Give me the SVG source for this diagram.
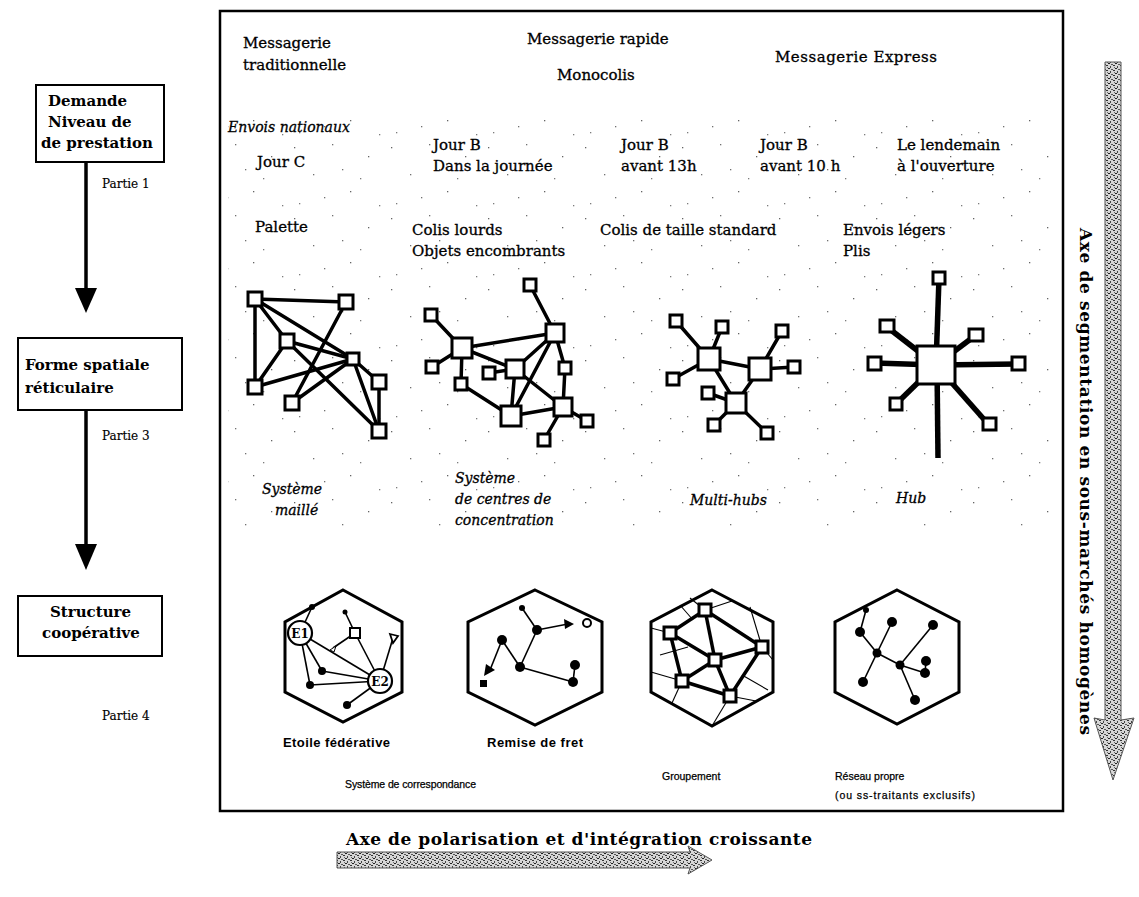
<svg xmlns="http://www.w3.org/2000/svg" width="1139" height="897" viewBox="0 0 1139 897">
<style>
.t{font-family:"DejaVu Serif","Liberation Serif",serif;font-size:15px;fill:#000;stroke:#000;stroke-width:0.3}
.b{font-weight:bold;stroke-width:0}
.i{font-style:italic}
.s{font-family:"Liberation Sans","DejaVu Sans",sans-serif;font-size:10.5px;fill:#000;stroke:#000;stroke-width:0.25}
.sb{font-family:"Liberation Sans","DejaVu Sans",sans-serif;font-size:13px;font-weight:bold;fill:#000}
.box{fill:#fff;stroke:#000;stroke-width:2}
.e{stroke:#000;stroke-width:3.5;fill:none;stroke-linecap:round}
.sq{fill:#fff;stroke:#000;stroke-width:3}
.hex{fill:#fff;stroke:#000;stroke-width:3}
.he{stroke:#000;stroke-width:1.6;fill:none}
.thin{stroke:#000;stroke-width:1.1;fill:none}
.dot{fill:#000}
.arr{fill:url(#grain);stroke:#555;stroke-width:1}
</style>
<defs>
<pattern id="speck" width="97" height="71" patternUnits="userSpaceOnUse">
<rect x="3" y="5" width="1.3" height="1.3" fill="#222"/>
<rect x="41" y="2" width="1.3" height="1.3" fill="#333"/>
<rect x="77" y="14" width="1.3" height="1.3" fill="#222"/>
<rect x="22" y="32" width="1.3" height="1.3" fill="#333"/>
<rect x="59" y="49" width="1.3" height="1.3" fill="#222"/>
<rect x="88" y="63" width="1.3" height="1.3" fill="#444"/>
<rect x="8" y="61" width="1.3" height="1.3" fill="#444"/>
<rect x="51" y="27" width="1.3" height="1.3" fill="#333"/>
<rect x="33" y="55" width="1.3" height="1.3" fill="#333"/>
<rect x="69" y="36" width="1.3" height="1.3" fill="#444"/>
</pattern>
<pattern id="grain" width="7" height="5" patternUnits="userSpaceOnUse">
<rect width="7" height="5" fill="#d6d6d6"/>
<rect x="0" y="0" width="2" height="1" fill="#333"/>
<rect x="4" y="1" width="1" height="2" fill="#444"/>
<rect x="2" y="3" width="2" height="1" fill="#222"/>
<rect x="5" y="4" width="2" height="1" fill="#555"/>
<rect x="1" y="2" width="1" height="1" fill="#666"/>
</pattern>
</defs>
<rect width="1139" height="897" fill="#fff"/>

<!-- speckled background -->
<rect x="228" y="118" width="830" height="410" fill="url(#speck)" opacity="0.7"/>

<!-- main frame -->
<rect x="220" y="11" width="843" height="800" fill="none" stroke="#000" stroke-width="2.5"/>

<!-- left column -->
<g id="node-demande">
<rect class="box" x="36" y="85" width="128" height="77"/>
<text class="t b" x="48" y="106">Demande</text>
<text class="t b" x="48" y="127">Niveau de</text>
<text class="t b" x="41" y="148">de prestation</text>
</g>
<text class="t" x="102" y="188" style="font-size:12px;stroke-width:0.15">Partie 1</text>

<g id="node-forme">
<rect class="box" x="18" y="338" width="164" height="72"/>
<text class="t b" x="25" y="370">Forme spatiale</text>
<text class="t b" x="25" y="393">réticulaire</text>
</g>
<text class="t" x="102" y="440" style="font-size:12px;stroke-width:0.15">Partie 3</text>

<g id="node-structure">
<rect class="box" x="18" y="596" width="144" height="60"/>
<text class="t b" x="50" y="617">Structure</text>
<text class="t b" x="42" y="638">coopérative</text>
</g>
<text class="t" x="102" y="720" style="font-size:12px;stroke-width:0.15">Partie 4</text>

<g id="connectors">
<line x1="86" y1="162" x2="86" y2="292" stroke="#000" stroke-width="3.5"/>
<polygon points="75,288 97,288 86,313" fill="#000"/>
<line x1="86" y1="410" x2="86" y2="548" stroke="#000" stroke-width="3.5"/>
<polygon points="75,544 97,544 86,570" fill="#000"/>
</g>

<!-- header texts -->
<g id="headers">
<text class="t" x="243" y="48">Messagerie</text>
<text class="t" x="243" y="70">traditionnelle</text>
<text class="t" x="527" y="44">Messagerie rapide</text>
<text class="t" x="557" y="80">Monocolis</text>
<text class="t" x="775" y="62" textLength="162">Messagerie Express</text>
<text class="t i" x="228" y="132" style="font-size:14px">Envois nationaux</text>
<text class="t" x="257" y="167">Jour C</text>
<text class="t" x="433" y="150">Jour B</text>
<text class="t" x="433" y="171">Dans la journée</text>
<text class="t" x="621" y="150">Jour B</text>
<text class="t" x="621" y="171">avant 13h</text>
<text class="t" x="760" y="150">Jour B</text>
<text class="t" x="760" y="171">avant 10 h</text>
<text class="t" x="897" y="150">Le lendemain</text>
<text class="t" x="897" y="171">à l'ouverture</text>
<text class="t" x="255" y="232">Palette</text>
<text class="t" x="412" y="235">Colis lourds</text>
<text class="t" x="412" y="256">Objets encombrants</text>
<text class="t" x="600" y="235">Colis de taille standard</text>
<text class="t" x="843" y="235">Envois légers</text>
<text class="t" x="843" y="256">Plis</text>
</g>

<!-- Network 1: maillé -->
<g id="net-maille">
<g class="e">
<line x1="255" y1="299" x2="346" y2="302"/>
<line x1="255" y1="299" x2="287" y2="341"/>
<line x1="255" y1="299" x2="353" y2="359"/>
<line x1="255" y1="299" x2="255" y2="387"/>
<line x1="346" y1="302" x2="292" y2="403"/>
<line x1="287" y1="341" x2="353" y2="359"/>
<line x1="287" y1="341" x2="255" y2="387"/>
<line x1="287" y1="341" x2="379" y2="431"/>
<line x1="255" y1="387" x2="353" y2="359"/>
<line x1="292" y1="403" x2="353" y2="359"/>
<line x1="353" y1="359" x2="379" y2="431"/>
<line x1="353" y1="359" x2="379" y2="382"/>
<line x1="379" y1="382" x2="379" y2="431"/>
</g>
<rect class="sq" x="248" y="292" width="14" height="14"/>
<rect class="sq" x="339" y="295" width="14" height="14"/>
<rect class="sq" x="280" y="334" width="14" height="14"/>
<rect class="sq" x="347" y="353" width="12" height="12"/>
<rect class="sq" x="248" y="380" width="14" height="14"/>
<rect class="sq" x="372" y="375" width="14" height="14"/>
<rect class="sq" x="285" y="396" width="14" height="14"/>
<rect class="sq" x="372" y="424" width="14" height="14"/>
</g>

<!-- Network 2: centres de concentration -->
<g id="net-centres">
<g class="e">
<line x1="530" y1="285" x2="555" y2="333"/>
<line x1="431" y1="315" x2="462" y2="348"/>
<line x1="462" y1="348" x2="555" y2="333"/>
<line x1="462" y1="348" x2="432" y2="367"/>
<line x1="462" y1="348" x2="461" y2="384"/>
<line x1="462" y1="348" x2="515" y2="369"/>
<line x1="555" y1="333" x2="515" y2="369"/>
<line x1="555" y1="333" x2="511" y2="416"/>
<line x1="555" y1="333" x2="565" y2="368"/>
<line x1="565" y1="368" x2="563" y2="407"/>
<line x1="515" y1="369" x2="511" y2="416"/>
<line x1="515" y1="369" x2="563" y2="407"/>
<line x1="461" y1="384" x2="511" y2="416"/>
<line x1="511" y1="416" x2="563" y2="407"/>
<line x1="563" y1="407" x2="587" y2="421"/>
<line x1="563" y1="407" x2="544" y2="440"/>
<line x1="489" y1="373" x2="515" y2="369"/>
</g>
<rect class="sq" x="524" y="279" width="12" height="12"/>
<rect class="sq" x="425" y="309" width="12" height="12"/>
<rect class="sq" x="452" y="338" width="20" height="20"/>
<rect class="sq" x="546" y="324" width="18" height="18"/>
<rect class="sq" x="426" y="361" width="12" height="12"/>
<rect class="sq" x="455" y="378" width="12" height="12"/>
<rect class="sq" x="483" y="367" width="12" height="12"/>
<rect class="sq" x="506" y="360" width="18" height="18"/>
<rect class="sq" x="559" y="362" width="12" height="12"/>
<rect class="sq" x="501" y="406" width="20" height="20"/>
<rect class="sq" x="554" y="398" width="18" height="18"/>
<rect class="sq" x="581" y="415" width="12" height="12"/>
<rect class="sq" x="538" y="434" width="12" height="12"/>
</g>

<!-- Network 3: multi-hubs -->
<g id="net-multihubs">
<g class="e">
<line x1="676" y1="321" x2="709" y2="359"/>
<line x1="722" y1="327" x2="709" y2="359"/>
<line x1="709" y1="359" x2="760" y2="369"/>
<line x1="709" y1="359" x2="673" y2="379"/>
<line x1="709" y1="359" x2="736" y2="403"/>
<line x1="760" y1="369" x2="782" y2="331"/>
<line x1="760" y1="369" x2="794" y2="367"/>
<line x1="760" y1="369" x2="736" y2="403"/>
<line x1="736" y1="403" x2="714" y2="425"/>
<line x1="736" y1="403" x2="767" y2="433"/>
<line x1="708" y1="393" x2="736" y2="403"/>
</g>
<rect class="sq" x="670" y="315" width="12" height="12"/>
<rect class="sq" x="716" y="321" width="12" height="12"/>
<rect class="sq" x="698" y="348" width="22" height="22"/>
<rect class="sq" x="749" y="358" width="22" height="22"/>
<rect class="sq" x="776" y="325" width="12" height="12"/>
<rect class="sq" x="788" y="361" width="12" height="12"/>
<rect class="sq" x="667" y="373" width="12" height="12"/>
<rect class="sq" x="702" y="387" width="12" height="12"/>
<rect class="sq" x="726" y="393" width="20" height="20"/>
<rect class="sq" x="708" y="419" width="12" height="12"/>
<rect class="sq" x="761" y="427" width="12" height="12"/>
</g>

<!-- Network 4: hub -->
<g id="net-hub">
<g stroke="#000" stroke-width="5.5" fill="none">
<line x1="939" y1="278" x2="936" y2="365"/>
<line x1="887" y1="327" x2="936" y2="365"/>
<line x1="976" y1="335" x2="936" y2="365"/>
<line x1="875" y1="363" x2="936" y2="365"/>
<line x1="1018" y1="364" x2="936" y2="365"/>
<line x1="896" y1="404" x2="936" y2="365"/>
<line x1="989" y1="425" x2="936" y2="365"/>
<line x1="937" y1="365" x2="938" y2="458"/>
</g>
<rect class="sq" x="917" y="346" width="38" height="38"/>
<rect class="sq" x="933" y="272" width="12" height="12"/>
<rect class="sq" x="880" y="320" width="14" height="12"/>
<rect class="sq" x="969" y="329" width="14" height="12"/>
<rect class="sq" x="868" y="357" width="13" height="13"/>
<rect class="sq" x="1012" y="357" width="13" height="13"/>
<rect class="sq" x="890" y="398" width="12" height="12"/>
<rect class="sq" x="983" y="418" width="13" height="12"/>
</g>

<!-- network labels -->
<g id="net-labels">
<text class="t i" x="262" y="494" style="font-size:14px">Système</text>
<text class="t i" x="275" y="515" style="font-size:14px">maillé</text>
<text class="t i" x="455" y="483" style="font-size:14px">Système</text>
<text class="t i" x="455" y="504" style="font-size:14px">de centres de</text>
<text class="t i" x="455" y="525" style="font-size:14px">concentration</text>
<text class="t i" x="690" y="505" style="font-size:14px">Multi-hubs</text>
<text class="t i" x="896" y="503" style="font-size:14px">Hub</text>
</g>

<!-- Hex 1 : Etoile fédérative -->
<g id="hex-etoile">
<polygon class="hex" points="343,590 402,622 402,692 343,722 285,692 285,622"/>
<g class="he">
<line x1="300" y1="633" x2="312" y2="607"/>
<line x1="300" y1="633" x2="380" y2="681"/>
<line x1="300" y1="633" x2="322" y2="671"/>
<line x1="300" y1="633" x2="310" y2="685"/>
<line x1="333" y1="648" x2="355" y2="633"/>
<line x1="322" y1="671" x2="380" y2="681"/>
<line x1="310" y1="685" x2="380" y2="681"/>
<line x1="355" y1="633" x2="380" y2="681"/>
<line x1="393" y1="638" x2="380" y2="681"/>
<line x1="380" y1="681" x2="347" y2="705"/>
<line x1="345" y1="612" x2="355" y2="633"/>
</g>
<circle class="dot" cx="312" cy="607" r="3"/>
<circle class="dot" cx="345" cy="612" r="2.5"/>
<circle class="dot" cx="322" cy="671" r="4"/>
<circle class="dot" cx="310" cy="685" r="4"/>
<circle class="dot" cx="347" cy="705" r="4"/>
<polygon points="330,650 336,646 334,652" fill="#fff" stroke="#000" stroke-width="1"/>
<rect x="350" y="628" width="10" height="10" fill="#fff" stroke="#000" stroke-width="2"/>
<polygon points="390,634 398,636 393,643" fill="#fff" stroke="#000" stroke-width="1.8"/>
<circle cx="300" cy="633" r="12" fill="#fff" stroke="#000" stroke-width="2.2"/>
<text x="300" y="638" text-anchor="middle" style="font-family:'DejaVu Serif',serif;font-size:12px;font-weight:bold">E1</text>
<circle cx="380" cy="681" r="12" fill="#fff" stroke="#000" stroke-width="2.2"/>
<text x="380" y="686" text-anchor="middle" style="font-family:'DejaVu Serif',serif;font-size:12px;font-weight:bold">E2</text>
</g>
<text class="sb" x="283" y="747" textLength="107">Etoile fédérative</text>

<!-- Hex 2 : Remise de fret -->
<g id="hex-remise">
<polygon class="hex" points="535,590 602,622 602,692 535,725 468,692 468,622"/>
<g class="he" stroke-width="2">
<line x1="502" y1="640" x2="490" y2="670"/>
<line x1="502" y1="640" x2="520" y2="667"/>
<line x1="520" y1="667" x2="537" y2="630"/>
<line x1="520" y1="667" x2="573" y2="682"/>
<line x1="573" y1="682" x2="575" y2="665"/>
<line x1="537" y1="630" x2="568" y2="624"/>
<line x1="537" y1="630" x2="522" y2="608"/>
</g>
<polygon points="484,676 486,664 495,670" fill="#000"/>
<polygon points="574,624 564,619 565,629" fill="#000"/>
<circle cx="587" cy="623" r="4" fill="#fff" stroke="#000" stroke-width="2"/>
<circle class="dot" cx="502" cy="640" r="5"/>
<circle class="dot" cx="537" cy="630" r="5"/>
<circle class="dot" cx="520" cy="667" r="5"/>
<circle class="dot" cx="575" cy="665" r="5"/>
<circle class="dot" cx="573" cy="682" r="5"/>
<circle class="dot" cx="522" cy="608" r="3"/>
<rect x="480" y="680" width="7" height="7" fill="#000"/>
</g>
<text class="sb" x="487" y="747" textLength="96">Remise de fret</text>

<!-- Hex 3 : Groupement -->
<g id="hex-groupement">
<polygon class="hex" points="712,590 773,622 773,692 712,726 651,692 651,622"/>
<g class="thin">
<line x1="670" y1="633" x2="651" y2="628"/>
<line x1="682" y1="681" x2="651" y2="672"/>
<line x1="682" y1="681" x2="672" y2="703"/>
<line x1="730" y1="696" x2="712" y2="726"/>
<line x1="730" y1="696" x2="756" y2="701"/>
<line x1="762" y1="647" x2="773" y2="660"/>
<line x1="762" y1="647" x2="750" y2="607"/>
<line x1="705" y1="610" x2="690" y2="598"/>
<line x1="705" y1="610" x2="732" y2="601"/>
<line x1="688" y1="647" x2="660" y2="655"/>
<line x1="742" y1="675" x2="768" y2="690"/>
<line x1="693" y1="620" x2="680" y2="605"/>
</g>
<g class="e" stroke-width="3">
<line x1="670" y1="633" x2="705" y2="610"/>
<line x1="705" y1="610" x2="762" y2="647"/>
<line x1="762" y1="647" x2="730" y2="696"/>
<line x1="730" y1="696" x2="682" y2="681"/>
<line x1="682" y1="681" x2="670" y2="633"/>
<line x1="715" y1="660" x2="670" y2="633"/>
<line x1="715" y1="660" x2="762" y2="647"/>
<line x1="715" y1="660" x2="682" y2="681"/>
<line x1="715" y1="660" x2="730" y2="696"/>
<line x1="715" y1="660" x2="705" y2="610"/>
</g>
<rect class="sq" x="664" y="627" width="12" height="12" stroke-width="2.5"/>
<rect class="sq" x="699" y="604" width="12" height="12" stroke-width="2.5"/>
<rect class="sq" x="756" y="641" width="12" height="12" stroke-width="2.5"/>
<rect class="sq" x="709" y="654" width="12" height="12" stroke-width="2.5"/>
<rect class="sq" x="676" y="675" width="12" height="12" stroke-width="2.5"/>
<rect class="sq" x="724" y="690" width="12" height="12" stroke-width="2.5"/>
</g>

<!-- Hex 4 : Réseau propre -->
<g id="hex-reseau">
<polygon class="hex" points="897,590 959,622 959,692 897,724 835,692 835,622"/>
<g class="he" stroke-width="2">
<line x1="877" y1="653" x2="860" y2="632"/>
<line x1="877" y1="653" x2="892" y2="622"/>
<line x1="877" y1="653" x2="900" y2="665"/>
<line x1="877" y1="653" x2="863" y2="682"/>
<line x1="900" y1="665" x2="933" y2="625"/>
<line x1="900" y1="665" x2="925" y2="673"/>
<line x1="925" y1="673" x2="926" y2="661"/>
<line x1="900" y1="665" x2="915" y2="700"/>
<line x1="860" y1="632" x2="866" y2="610"/>
</g>
<circle class="dot" cx="860" cy="632" r="5"/>
<circle class="dot" cx="892" cy="622" r="5"/>
<circle class="dot" cx="933" cy="625" r="5"/>
<circle class="dot" cx="877" cy="653" r="4.5"/>
<circle class="dot" cx="900" cy="665" r="4.5"/>
<circle class="dot" cx="926" cy="661" r="5"/>
<circle class="dot" cx="925" cy="673" r="5"/>
<circle class="dot" cx="863" cy="682" r="5"/>
<circle class="dot" cx="915" cy="700" r="5"/>
<circle class="dot" cx="866" cy="610" r="3"/>
</g>

<!-- bottom labels -->
<text class="s" x="345" y="788" textLength="131">Système de correspondance</text>
<text class="s" x="662" y="780">Groupement</text>
<text class="s" x="835" y="780">Réseau propre</text>
<text class="s" x="835" y="799" textLength="140">(ou ss-traitants exclusifs)</text>

<!-- axis arrows -->
<g id="axis-bottom">
<text class="t b" x="346" y="845" style="font-size:17px" textLength="466">Axe de polarisation et d'intégration croissante</text>
<polygon class="arr" points="337,852 690,852 688,846 712,860 688,874 690,868 337,868"/>
</g>
<g id="axis-right">
<polygon class="arr" points="1105,62 1121,62 1121,720 1134,718 1113,780 1094,718 1105,720"/>
<text class="t b" transform="translate(1080,228) rotate(90)" x="0" y="0" style="font-size:17px" textLength="507">Axe de segmentation en sous-marchés homogènes</text>
</g>
</svg>
